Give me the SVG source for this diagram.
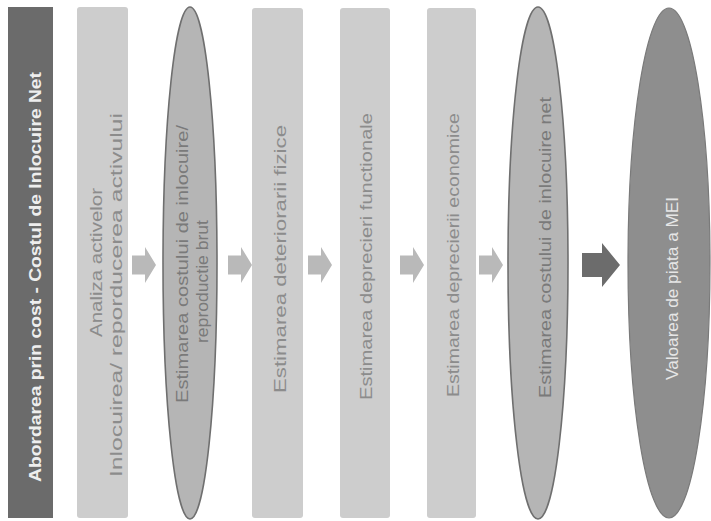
<svg xmlns="http://www.w3.org/2000/svg" width="711" height="521" viewBox="0 0 711 521">
<style>
text{font-family:"Liberation Sans",Arial,sans-serif;font-size:17px}
.title{fill:#eeeeee;font-weight:bold;font-size:16px}
.bar{fill:#cdcdcd}
.bt{fill:#8c8c8c}
.ell{fill:#b5b5b5;stroke:#6f6f6f;stroke-width:1.6}
.et{fill:#7a7a7a}
.big{fill:#8e8e8e;stroke:#7a7a7a;stroke-width:1.2}
.wt{fill:#e6e6e6}
.arr{fill:#b9b9b9}
.darr{fill:#6c6c6c}
</style>
<defs>
<path id="arrow" d="M0,-9.5 H13 V-18 L24,0 L13,18 V9.5 H0 Z"/>
</defs>
<rect width="711" height="521" fill="#ffffff"/>
<g id="title">
<rect x="8" y="7" width="45" height="511" fill="#6b6b6b"/>
<text class="title" transform="translate(41,482) rotate(-90)" textLength="410" lengthAdjust="spacingAndGlyphs">Abordarea prin cost - Costul de Inlocuire Net</text>
</g>
<g id="analiza">
<rect class="bar" x="77" y="7" width="51" height="511" rx="3"/>
<text class="bt" transform="translate(102,337) rotate(-90)" textLength="149" lengthAdjust="spacingAndGlyphs">Analiza activelor</text>
<text class="bt" transform="translate(122,477) rotate(-90)" textLength="364" lengthAdjust="spacingAndGlyphs">Inlocuirea/ reporducerea activului</text>
</g>
<g id="cost-brut">
<ellipse class="ell" cx="190" cy="263" rx="27" ry="256"/>
<text class="et" transform="translate(188,403) rotate(-90)" textLength="278" lengthAdjust="spacingAndGlyphs">Estimarea costului de inlocuire/</text>
<text class="et" transform="translate(208,343) rotate(-90)" textLength="123" lengthAdjust="spacingAndGlyphs">reproductie brut</text>
</g>
<g id="deteriorari">
<rect class="bar" x="252" y="8" width="51" height="510" rx="3"/>
<text class="bt" transform="translate(286,393) rotate(-90)" textLength="268" lengthAdjust="spacingAndGlyphs">Estimarea deteriorarii fizice</text>
</g>
<g id="functionale">
<rect class="bar" x="340" y="8" width="50" height="510" rx="3"/>
<text class="bt" transform="translate(372,400) rotate(-90)" textLength="287" lengthAdjust="spacingAndGlyphs">Estimarea deprecieri functionale</text>
</g>
<g id="economice">
<rect class="bar" x="427" y="8" width="49" height="510" rx="3"/>
<text class="bt" transform="translate(459,397) rotate(-90)" textLength="284" lengthAdjust="spacingAndGlyphs">Estimarea deprecierii economice</text>
</g>
<g id="cost-net">
<ellipse class="ell" cx="538" cy="263" rx="30" ry="256"/>
<text class="et" transform="translate(551,398) rotate(-90)" textLength="301" lengthAdjust="spacingAndGlyphs">Estimarea costului de inlocuire net</text>
</g>
<g id="valoare">
<ellipse class="big" cx="669" cy="263" rx="41" ry="255"/>
<text class="wt" transform="translate(678,380) rotate(-90)" textLength="183" lengthAdjust="spacingAndGlyphs">Valoarea de piata a MEI</text>
</g>
<g id="connectors">
<use href="#arrow" class="arr" x="132" y="265"/>
<use href="#arrow" class="arr" x="228" y="265"/>
<use href="#arrow" class="arr" x="308" y="265"/>
<use href="#arrow" class="arr" x="400" y="265"/>
<use href="#arrow" class="arr" x="479" y="265"/>
<path class="darr" d="M582,253 H602 V243 L620,265 L602,287 V277 H582 Z"/>
</g>
</svg>
